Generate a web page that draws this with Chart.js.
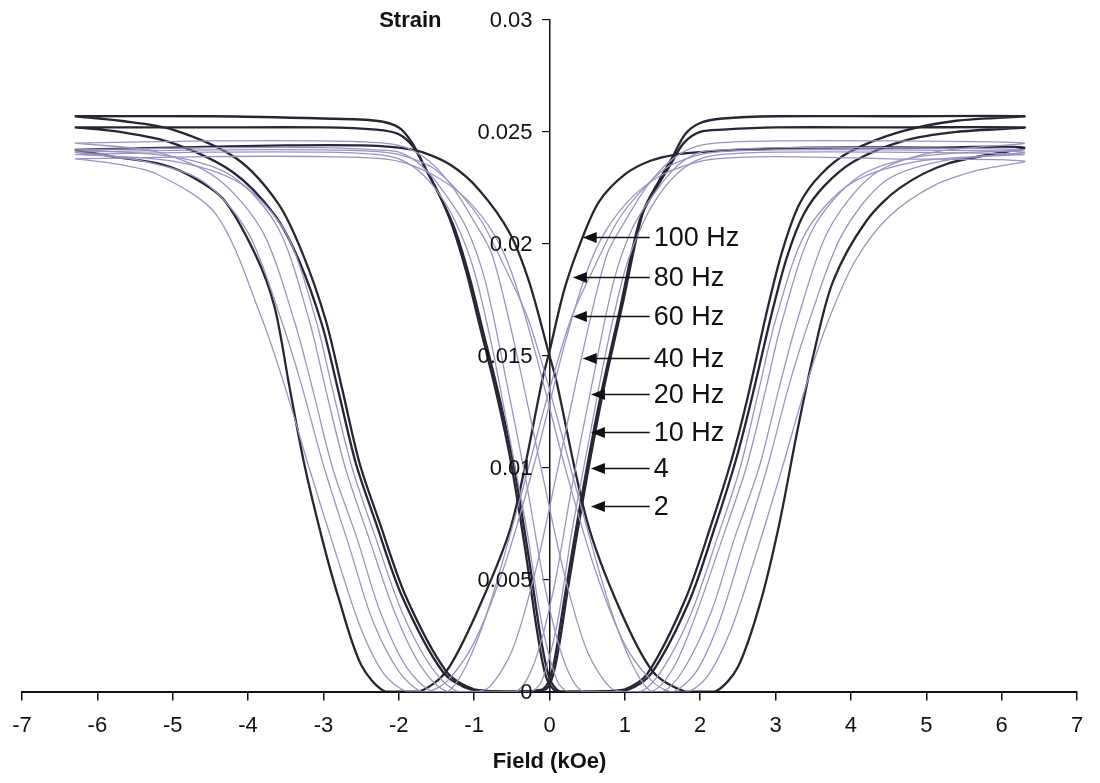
<!DOCTYPE html>
<html>
<head>
<meta charset="utf-8">
<script src="https://cdn.jsdelivr.net/npm/chart.js@4.4.1/dist/chart.umd.min.js"></script>
<style>
  html, body { margin: 0; padding: 0; background: #fff; }
  #wrap { width: 1100px; height: 783px; }
</style>
</head>
<body>
<div id="wrap"><canvas id="grafica" width="1100" height="783"></canvas></div>
<script>
// --- Datos: [campo (kOe), deformación] ---
const frequencies = ['10 Hz', '20 Hz', '40 Hz', '60 Hz', '80 Hz', '2 Hz', '4 Hz', '100 Hz'];

const loop10Hz = [
  [-6.3,0.024],[-4.5,0.0241],[-3.0,0.0241],[-2.3,0.024],[-2.0,0.0238],[-1.75,0.0233],[-1.5,0.0224],[-1.25,0.021],
  [-1.0,0.0188],[-0.75,0.0152],[-0.55,0.0117],[-0.3,0.0072],[-0.1,0.003],[0.1,0.0005],[0.25,0],[1.2,0],
  [1.5,0.001],[1.88,0.0035],[2.22,0.0068],[2.53,0.01],[2.78,0.0135],[3.0,0.0166],[3.4,0.0205],[4.0,0.0227],[4.9,0.0237],[6.3,0.024],
  [4.5,0.0241],[3.0,0.0241],[2.3,0.024],[2.0,0.0238],[1.75,0.0233],[1.5,0.0224],[1.25,0.021],[1.0,0.0188],
  [0.75,0.0152],[0.55,0.0117],[0.3,0.0072],[0.1,0.003],[-0.1,0.0005],[-0.25,0],[-1.2,0],
  [-1.55,0.001],[-1.95,0.0035],[-2.3,0.0068],[-2.62,0.01],[-2.88,0.0135],[-3.1,0.0166],[-3.5,0.0205],[-4.1,0.0227],[-5.0,0.0237],[-6.3,0.024]
];

const loop20Hz = [
  [-6.3,0.0242],[-4.5,0.0243],[-3.0,0.0243],[-2.3,0.0242],[-2.0,0.0241],[-1.7,0.0235],[-1.4,0.0223],[-1.1,0.0207],
  [-0.85,0.0183],[-0.55,0.0135],[-0.3,0.0092],[-0.05,0.0045],[0.2,0.0013],[0.45,0],[1.35,0],
  [1.65,0.0011],[1.95,0.0035],[2.3,0.0069],[2.61,0.01],[2.87,0.0135],[3.09,0.0166],[3.5,0.0207],[4.1,0.023],[4.9,0.0239],[6.3,0.0242],
  [4.5,0.0243],[3.0,0.0243],[2.3,0.0242],[2.0,0.0241],[1.7,0.0235],[1.4,0.0223],[1.1,0.0207],[0.85,0.0183],
  [0.55,0.0135],[0.3,0.0092],[0.05,0.0045],[-0.2,0.0013],[-0.45,0],[-1.35,0],
  [-1.7,0.0011],[-2.05,0.0035],[-2.4,0.0069],[-2.71,0.01],[-2.97,0.0135],[-3.19,0.0166],[-3.6,0.0207],[-4.2,0.023],[-5.0,0.0239],[-6.3,0.0242]
];

const loop40Hz = [
  [-6.3,0.0245],[-4.5,0.0246],[-3.0,0.0246],[-2.2,0.0245],[-1.9,0.0243],[-1.6,0.0237],[-1.3,0.0226],[-1.0,0.021],
  [-0.76,0.0195],[-0.43,0.015],[-0.1,0.0098],[0.2,0.0052],[0.5,0.0018],[0.8,0.0002],[1.0,0],[1.5,0],
  [1.8,0.0011],[2.15,0.0036],[2.45,0.0068],[2.78,0.01],[3.05,0.0136],[3.29,0.0166],[3.7,0.0206],[4.3,0.0231],[5.1,0.0241],[6.3,0.0245],
  [4.5,0.0246],[3.0,0.0246],[2.2,0.0245],[1.9,0.0243],[1.6,0.0237],[1.3,0.0226],[1.0,0.021],[0.76,0.0195],
  [0.43,0.015],[0.1,0.0098],[-0.2,0.0052],[-0.5,0.0018],[-0.8,0.0002],[-1.0,0],[-1.55,0],
  [-1.9,0.0011],[-2.25,0.0036],[-2.55,0.0068],[-2.88,0.01],[-3.15,0.0136],[-3.39,0.0166],[-3.8,0.0205],[-4.4,0.0229],[-5.2,0.0241],[-6.3,0.0245]
];

const loop60Hz = [
  [-6.3,0.0241],[-4.5,0.0242],[-3.0,0.0242],[-2.2,0.0241],[-1.9,0.0239],[-1.55,0.0234],[-1.2,0.0223],[-0.9,0.021],
  [-0.6,0.019],[-0.29,0.0167],[0.0,0.0135],[0.4,0.0085],[0.8,0.0038],[1.1,0.0012],[1.35,0],[1.65,0],
  [1.95,0.0009],[2.25,0.0031],[2.55,0.0063],[2.88,0.0099],[3.18,0.0137],[3.45,0.0166],[3.88,0.0204],[4.45,0.0228],[5.2,0.0237],[6.3,0.0241],
  [4.5,0.0242],[3.0,0.0242],[2.2,0.0241],[1.9,0.0239],[1.55,0.0234],[1.2,0.0223],[0.9,0.021],[0.6,0.019],
  [0.29,0.0167],[0.0,0.0135],[-0.4,0.0085],[-0.8,0.0038],[-1.1,0.0012],[-1.35,0],[-1.7,0],
  [-2.0,0.0009],[-2.35,0.0032],[-2.65,0.0064],[-2.99,0.01],[-3.3,0.0138],[-3.56,0.0166],[-4.0,0.0205],[-4.6,0.0228],[-5.4,0.0237],[-6.3,0.0241]
];

const loop80Hz = [
  [-6.3,0.0238],[-4.5,0.0239],[-3.0,0.0239],[-2.2,0.0238],[-1.9,0.0236],[-1.5,0.023],[-1.1,0.022],[-0.75,0.0205],
  [-0.5,0.0187],[-0.2,0.0153],[0.2,0.0101],[0.6,0.0055],[1.0,0.0021],[1.35,0.0005],[1.6,0],[1.85,0],
  [2.1,0.0007],[2.4,0.0027],[2.7,0.0057],[3.08,0.0099],[3.38,0.0134],[3.68,0.0164],[4.05,0.0192],[4.5,0.0212],[5.1,0.0226],[5.7,0.0233],[6.3,0.0237],
  [4.5,0.0238],[3.0,0.0239],[2.2,0.0238],[1.9,0.0236],[1.5,0.0231],[1.1,0.0221],[0.75,0.0206],[0.5,0.0188],
  [0.2,0.0155],[-0.2,0.0102],[-0.6,0.0056],[-1.0,0.0022],[-1.35,0.0005],[-1.6,0],[-1.9,0],
  [-2.2,0.0008],[-2.5,0.0028],[-2.8,0.0058],[-3.19,0.01],[-3.5,0.0135],[-3.81,0.0166],[-4.42,0.0213],[-5.2,0.0231],[-5.8,0.0236],[-6.3,0.0238]
];

const loop2Hz = [
  [-6.3,0.0257],[-4.5,0.0257],[-3.0,0.0256],[-2.3,0.0255],[-2.0,0.0252],[-1.82,0.0245],[-1.65,0.0234],[-1.45,0.0221],
  [-1.29,0.0208],[-1.1,0.0187],[-0.93,0.0164],[-0.71,0.0134],[-0.52,0.0104],[-0.32,0.0063],[-0.16,0.0026],[-0.04,0.0006],[0.1,0],[0.6,0],[1.0,0.0001],
  [1.3,0.0008],[1.8,0.0041],[2.15,0.0075],[2.42,0.0104],[2.62,0.013],[2.9,0.0172],[3.1,0.0198],[3.32,0.0218],[3.6,0.0231],[3.98,0.0241],[4.65,0.025],[5.4,0.0255],[6.3,0.0257],
  [4.5,0.0257],[3.0,0.0257],[2.3,0.0256],[2.0,0.0254],[1.8,0.0249],[1.62,0.0238],[1.45,0.0228],[1.24,0.0214],
  [0.97,0.0173],[0.7,0.0132],[0.44,0.0085],[0.24,0.0045],[0.08,0.0012],[-0.05,0.0001],[-0.5,0],[-1.0,0.0001],
  [-1.37,0.0009],[-1.9,0.0042],[-2.26,0.0076],[-2.52,0.0102],[-2.75,0.0135],[-2.97,0.0166],[-3.28,0.0196],[-3.6,0.0218],[-4.15,0.0238],[-5.0,0.0251],[-5.7,0.0255],[-6.3,0.0257]
];

const loop4Hz = [
  [-6.3,0.0252],[-4.5,0.0252],[-3.0,0.0252],[-2.3,0.0251],[-2.0,0.0249],[-1.8,0.0243],[-1.62,0.0232],[-1.42,0.0219],
  [-1.25,0.0206],[-1.06,0.0185],[-0.89,0.0162],[-0.67,0.0132],[-0.48,0.0102],[-0.28,0.0061],[-0.12,0.0025],[0.0,0.0006],[0.14,0],[0.6,0],[1.05,0.0001],
  [1.35,0.0008],[1.85,0.004],[2.2,0.0074],[2.47,0.0103],[2.67,0.0129],[2.95,0.0169],[3.15,0.0194],[3.37,0.0213],[3.65,0.0226],[4.05,0.0237],[4.7,0.0246],[5.4,0.025],[6.3,0.0252],
  [4.5,0.0252],[3.0,0.0252],[2.3,0.0251],[2.0,0.025],[1.78,0.0245],[1.6,0.0235],[1.42,0.0225],[1.2,0.0211],
  [0.93,0.017],[0.66,0.0129],[0.4,0.0082],[0.2,0.0042],[0.04,0.001],[-0.09,0.0001],[-0.5,0],[-1.05,0.0001],
  [-1.42,0.0009],[-1.95,0.0042],[-2.31,0.0076],[-2.57,0.0102],[-2.8,0.0134],[-3.02,0.0164],[-3.33,0.0193],[-3.65,0.0213],[-4.2,0.0232],[-5.0,0.0245],[-5.7,0.025],[-6.3,0.0252]
];

const loop100Hz = [
  [-6.3,0.0242],[-5.0,0.0243],[-3.5,0.0244],[-2.5,0.0244],[-2.0,0.0243],[-1.69,0.0241],[-1.3,0.0235],[-0.93,0.0224],
  [-0.53,0.0205],[-0.27,0.0183],[0.0,0.015],[0.09,0.0139],[0.5,0.0076],[0.93,0.0037],[1.37,0.0009],[1.8,0],[2.2,0],
  [2.5,0.0011],[2.8,0.004],[3.05,0.0075],[3.28,0.0115],[3.5,0.015],[3.76,0.0183],[4.2,0.021],[4.65,0.0225],[5.3,0.0236],[6.3,0.0243],
  [5.0,0.0243],[3.5,0.0243],[2.5,0.0242],[2.0,0.0241],[1.69,0.024],[1.33,0.0237],[1.0,0.0231],[0.66,0.0219],
  [0.44,0.0203],[0.2,0.018],[0.0,0.0152],[-0.09,0.014],[-0.5,0.0075],[-0.93,0.0038],[-1.37,0.0009],[-1.73,0],[-2.18,0],
  [-2.5,0.0012],[-2.8,0.0042],[-3.0,0.0066],[-3.25,0.0101],[-3.45,0.0136],[-3.65,0.0172],[-3.9,0.0195],[-4.33,0.022],[-4.8,0.0231],[-5.2,0.0236],[-5.8,0.0239],[-6.3,0.0242]
];

const loops = [loop10Hz, loop20Hz, loop40Hz, loop60Hz, loop80Hz, loop2Hz, loop4Hz, loop100Hz];
const darkLoops = ['2 Hz', '4 Hz', '100 Hz'];

// Flechas y etiquetas del gráfico
const arrowLabels = ['100 Hz', '80 Hz', '60 Hz', '40 Hz', '20 Hz', '10 Hz', '4', '2'];
const arrowTipField = [0.44, 0.31, 0.31, 0.44, 0.55, 0.55, 0.55, 0.55];
const arrowTipStrain = [0.0203, 0.0185, 0.0168, 0.0149, 0.0133, 0.0116, 0.0100, 0.0083];
const arrowTailField = 1.33;

const xTicks = [-7, -6, -5, -4, -3, -2, -1, 0, 1, 2, 3, 4, 5, 6, 7];
const yTicks = [0, 0.005, 0.01, 0.015, 0.02, 0.025, 0.03];
const yTickLabels = ['0', '0.005', '0.01', '0.015', '0.02', '0.025', '0.03'];

const FONT = "'Liberation Sans', Arial, sans-serif";
const DARK = '#2a2433';
const LIGHT = '#9a94c4';

const datasets = loops.map((loop, i) => {
  const dark = darkLoops.includes(frequencies[i]);
  return {
    label: frequencies[i],
    data: loop.map(p => ({ x: p[0], y: p[1] })),
    showLine: true,
    borderColor: dark ? DARK : LIGHT,
    borderWidth: dark ? 2.3 : 1.3,
    pointRadius: 0,
    tension: 0.3,
    fill: false
  };
});

const annotationsPlugin = {
  id: 'anotaciones',
  afterDatasetsDraw(chart) {
    const { ctx, scales: { x, y } } = chart;
    const x0 = x.getPixelForValue(0);
    ctx.save();
    ctx.strokeStyle = '#111';
    ctx.fillStyle = '#111';

    // etiquetas del eje Y (a la izquierda del eje central)
    ctx.font = '22px ' + FONT;
    ctx.textAlign = 'right';
    ctx.textBaseline = 'middle';
    yTicks.forEach((v, i) => {
      ctx.fillText(yTickLabels[i], x0 - 17, y.getPixelForValue(v) + 1);
    });

    // flechas
    ctx.lineWidth = 1.6;
    const ex = x.getPixelForValue(arrowTailField);
    arrowLabels.forEach((label, i) => {
      const tx = x.getPixelForValue(arrowTipField[i]);
      const ty = Math.round(y.getPixelForValue(arrowTipStrain[i])) + 0.5;
      ctx.beginPath();
      ctx.moveTo(tx + 8, ty);
      ctx.lineTo(ex, ty);
      ctx.stroke();
      ctx.beginPath();
      ctx.moveTo(tx, ty);
      ctx.lineTo(tx + 14, ty - 5.5);
      ctx.lineTo(tx + 14, ty + 5.5);
      ctx.closePath();
      ctx.fill();
      ctx.font = '27px ' + FONT;
      ctx.textAlign = 'left';
      ctx.textBaseline = 'middle';
      ctx.fillText(label, ex + 4, ty + 1);
    });

    // títulos de los ejes
    ctx.font = 'bold 22px ' + FONT;
    ctx.textAlign = 'right';
    ctx.textBaseline = 'middle';
    ctx.fillText('Strain', x0 - 108, y.getPixelForValue(0.03) + 1);
    ctx.textAlign = 'center';
    ctx.fillText('Field (kOe)', (chart.chartArea.left + chart.chartArea.right) / 2, chart.chartArea.bottom + 70);
    ctx.restore();
  }
};

new Chart(document.getElementById('grafica'), {
  type: 'scatter',
  data: { datasets },
  options: {
    responsive: false,
    animation: false,
    layout: { padding: { left: 22, right: 23, top: 20, bottom: 32 } },
    plugins: {
      legend: { display: false },
      tooltip: { enabled: false }
    },
    scales: {
      x: {
        type: 'linear',
        min: -7,
        max: 7,
        afterBuildTicks: (axis) => { axis.ticks = xTicks.map(v => ({ value: v })); },
        ticks: { autoSkip: false, padding: 12, color: '#111', font: { size: 22, family: FONT }, callback: v => String(v) },
        grid: { drawOnChartArea: false, drawTicks: true, tickLength: 9, color: '#111', lineWidth: 1.5 },
        border: { display: true, color: '#111', width: 2 },
        title: { display: false }
      },
      y: {
        type: 'linear',
        min: 0,
        max: 0.03,
        position: { x: 0 },
        afterBuildTicks: (axis) => { axis.ticks = yTicks.map(v => ({ value: v })); },
        ticks: { display: false },
        grid: { drawOnChartArea: false, drawTicks: true, tickLength: 7, color: '#111', lineWidth: 1.2 },
        border: { display: true, color: '#111', width: 1.5 }
      }
    }
  },
  plugins: [annotationsPlugin]
});
</script>
</body>
</html>
